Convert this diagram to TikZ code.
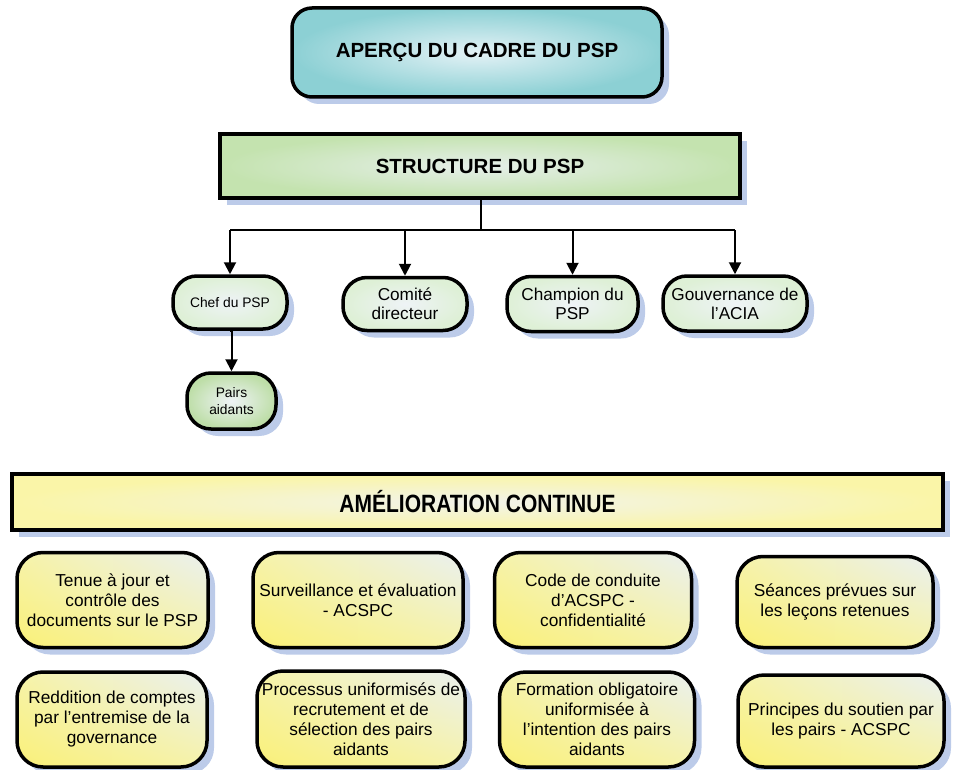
\documentclass[tikz,border=0pt]{standalone}
\usepackage{fontspec}
\setmainfont{Liberation Sans}
\usepackage{graphicx}
\usetikzlibrary{arrows.meta,shadows,shadings}
\definecolor{shadowc}{RGB}{188,203,233}
\definecolor{tealout}{RGB}{140,208,212}
\definecolor{tealin}{RGB}{228,242,246}
\definecolor{greenout}{RGB}{196,227,175}
\definecolor{greenin}{RGB}{230,239,234}
\definecolor{paleout}{RGB}{222,240,214}
\definecolor{palein}{RGB}{238,243,246}
\definecolor{pairout}{RGB}{190,222,168}
\definecolor{yelout}{RGB}{250,245,168}
\definecolor{yelin}{RGB}{242,243,234}
\definecolor{yelA}{RGB}{250,240,120}
\definecolor{yelB}{RGB}{246,243,170}
\definecolor{yelC}{RGB}{234,240,240}
\begin{document}
\begin{tikzpicture}[x=1pt,y=-1pt,
  box/.style={draw=black, line width=3.5pt, align=center, inner sep=0pt,
    drop shadow={shadow xshift=7pt, shadow yshift=-7pt, fill=shadowc, opacity=1}},
  titlebox/.style={box, rounded corners=20pt, inner color=tealin, outer color=tealout,
    font=\fontsize{20.5}{24}\selectfont\bfseries},
  structbox/.style={box, inner color=greenin, outer color=greenout,
    font=\fontsize{20.5}{24}\selectfont\bfseries},
  childbox/.style={box, rounded corners=24pt, inner color=palein, outer color=paleout,
    font=\fontsize{17.2}{19}\selectfont},
  smallchild/.style={childbox, font=\fontsize{13.8}{16.7}\selectfont},
  pairbox/.style={smallchild, inner color=palein, outer color=pairout},
  ambox/.style={box, inner color=yelin, outer color=yelout},
  itembox/.style={box, rounded corners=26pt, lower left=yelA, upper left=yelB,
    lower right=yelB, upper right=yelC, font=\fontsize{17.3}{20}\selectfont},
  conn/.style={line width=2pt},
  arr/.style={conn, -{Triangle[length=12pt,width=12pt]}}
]
\useasboundingbox (0,0) rectangle (958,770);

\node[titlebox, minimum width=370pt, minimum height=89pt] (title) at (477,52.5) {APERÇU DU CADRE DU PSP};
\node[structbox, minimum width=520pt, minimum height=64pt] (struct) at (480,166) {STRUCTURE DU PSP};

\node[smallchild, minimum width=114pt, minimum height=53pt] (chef) at (230,302.5) {Chef du PSP};
\node[childbox, minimum width=124pt, minimum height=53pt] (comite) at (405,304) {Comité\\directeur};
\node[childbox, minimum width=131pt, minimum height=55pt] (champ) at (572.5,304) {Champion du\\PSP};
\node[childbox, minimum width=144pt, minimum height=55pt] (gouv) at (735,303.5) {Gouvernance de\\l’ACIA};
\node[pairbox, minimum width=89pt, minimum height=56pt] (pairs) at (231.5,401) {Pairs\\aidants};

\node[ambox, minimum width=931pt, minimum height=56pt] (amel) at (477.5,502)
  {\scalebox{0.84}[1]{\fontsize{25}{28}\selectfont\bfseries AMÉLIORATION CONTINUE}};

\node[itembox, minimum width=191pt, minimum height=95pt] (tenue) at (112.5,600) {Tenue à jour et\\contrôle des\\documents sur le PSP};
\node[itembox, minimum width=210pt, minimum height=95pt] (surv) at (358,600) {Surveillance et évaluation\\- ACSPC};
\node[itembox, minimum width=197pt, minimum height=95pt] (code) at (593,600) {Code de conduite\\d’ACSPC -\\confidentialité};
\node[itembox, minimum width=196pt, minimum height=91pt] (seances) at (835,602) {Séances prévues sur\\les leçons retenues};

\node[itembox, minimum width=190pt, minimum height=95pt] (redd) at (112,719.5) {Reddition de comptes\\par l’entremise de la\\governance};
\node[itembox, minimum width=208pt, minimum height=96pt] (proc) at (361,719) {Processus uniformisés de\\recrutement et de\\sélection des pairs\\aidants};
\node[itembox, minimum width=195pt, minimum height=95pt] (form) at (597,719.5) {Formation obligatoire\\uniformisée à\\l’intention des pairs\\aidants};
\node[itembox, minimum width=206pt, minimum height=92pt] (princ) at (841,721) {Principes du soutien par\\les pairs - ACSPC};

\coordinate (bus) at (481,230);
\draw[conn] (struct.south -| bus) -- (bus);
\draw[conn] (chef.north |- bus) -- (gouv.north |- bus);
\draw[arr] (chef.north |- bus) -- (chef.north);
\draw[arr] (comite.north |- bus) -- (comite.north);
\draw[arr] (champ.north |- bus) -- (champ.north);
\draw[arr] (gouv.north |- bus) -- (gouv.north);
\draw[arr] (chef.south) -- (chef.south -| pairs.north) -- (pairs.north);
\end{tikzpicture}
\end{document}
